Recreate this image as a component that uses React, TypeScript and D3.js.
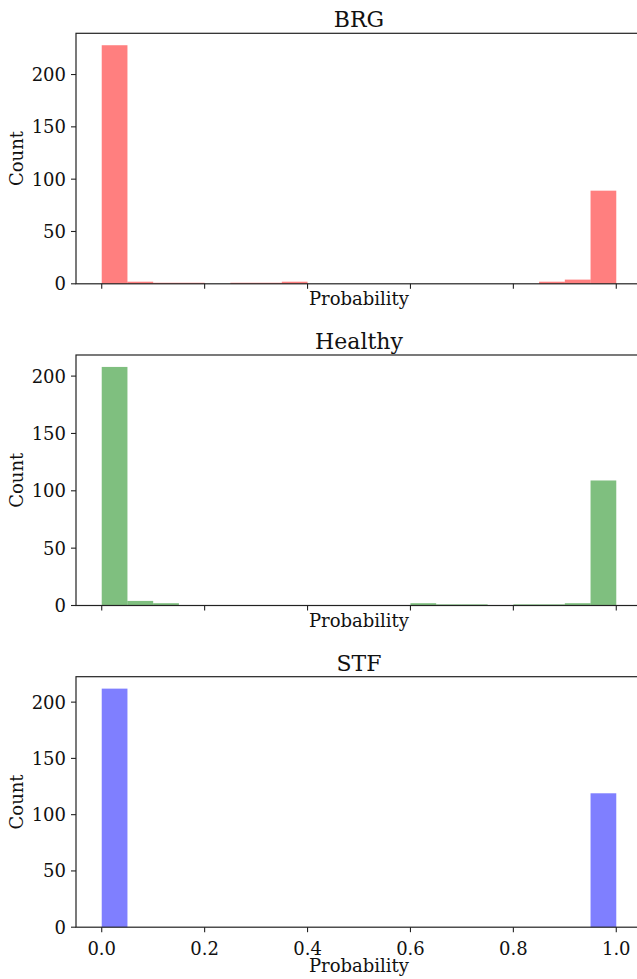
import * as d3 from "d3";
import { useEffect } from "react";

// histogram bins (20 bins of width 0.05)
const binEdges = [0, 0.05, 0.1, 0.15, 0.2, 0.25, 0.3, 0.35, 0.4, 0.45, 0.5, 0.55, 0.6, 0.65, 0.7, 0.75, 0.8, 0.85, 0.9, 0.95, 1.0];

const brgCounts = [228, 2, 1, 1, 0, 1, 1, 2, 0, 0, 0, 0, 0, 0, 0, 0, 0, 2, 4, 89];
const healthyCounts = [208, 4, 2, 0, 0, 0, 0, 0, 0, 0, 0, 0, 2, 1, 1, 0, 1, 1, 2, 109];
const stfCounts = [212, 0, 0, 0, 0, 0, 0, 0, 0, 0, 0, 0, 0, 0, 0, 0, 0, 0, 0, 119];

const panelTitles = ["BRG", "Healthy", "STF"];
const panelColors = ["red", "green", "blue"];
const xTicks = [0, 0.2, 0.4, 0.6, 0.8, 1.0];
const yTicks = [0, 50, 100, 150, 200];

const width = 637;
const height = 979;
const left = 76;
const right = 642;
const panelTops = [33.3, 355, 676.7];
const panelHeight = 250.5;
const font = "DejaVu Serif";
const labelSize = 18;

function Panel({ counts, title, color, top, showXLabels }) {
  const bottom = top + panelHeight;
  const x = d3.scaleLinear().domain([-0.05, 1.05]).range([left, right]);
  const y = d3
    .scaleLinear()
    .domain([0, d3.max(counts) * 1.05])
    .range([bottom, top]);

  return (
    <g>
      {counts.map((c, i) =>
        c > 0 ? (
          <rect
            key={i}
            x={x(binEdges[i])}
            y={y(c)}
            width={x(binEdges[i + 1]) - x(binEdges[i])}
            height={y(0) - y(c)}
            fill={color}
            fillOpacity={0.5}
          />
        ) : null
      )}
      {/* spines */}
      <rect x={left} y={top} width={right - left} height={panelHeight} fill="none" stroke="#222" strokeWidth={1.2} />
      {/* y axis */}
      {yTicks.map((t) => (
        <g key={t}>
          <line x1={left - 5} x2={left} y1={y(t)} y2={y(t)} stroke="#222" strokeWidth={1.1} />
          <text x={66} y={y(t)} dy="0.36em" textAnchor="end" fontFamily={font} fontSize={labelSize} fill="#111">
            {t}
          </text>
        </g>
      ))}
      {/* x axis */}
      {xTicks.map((t) => (
        <g key={t}>
          <line x1={x(t)} x2={x(t)} y1={bottom} y2={bottom + 5} stroke="#222" strokeWidth={1.1} />
          {showXLabels && (
            <text x={x(t)} y={bottom + 28} textAnchor="middle" fontFamily={font} fontSize={labelSize} fill="#111">
              {t.toFixed(1)}
            </text>
          )}
        </g>
      ))}
      <text
        x={(left + right) / 2}
        y={showXLabels ? bottom + 45 : bottom + 21}
        textAnchor="middle"
        fontFamily={font}
        fontSize={labelSize}
        fill="#111"
      >
        Probability
      </text>
      <text
        transform={`translate(23,${(top + bottom) / 2}) rotate(-90)`}
        textAnchor="middle"
        fontFamily={font}
        fontSize={labelSize}
        fill="#111"
      >
        Count
      </text>
      <text x={(left + right) / 2} y={top - 6} textAnchor="middle" fontFamily={font} fontSize={22} fill="#111">
        {title}
      </text>
    </g>
  );
}

export default function App() {
  useEffect(() => {
    document.body.style.margin = "0";
  }, []);

  const series = [brgCounts, healthyCounts, stfCounts];

  return (
    <svg width={width} height={height} style={{ display: "block", background: "#fff" }}>
      {series.map((counts, i) => (
        <Panel
          key={panelTitles[i]}
          counts={counts}
          title={panelTitles[i]}
          color={panelColors[i]}
          top={panelTops[i]}
          showXLabels={i === 2}
        />
      ))}
    </svg>
  );
}
